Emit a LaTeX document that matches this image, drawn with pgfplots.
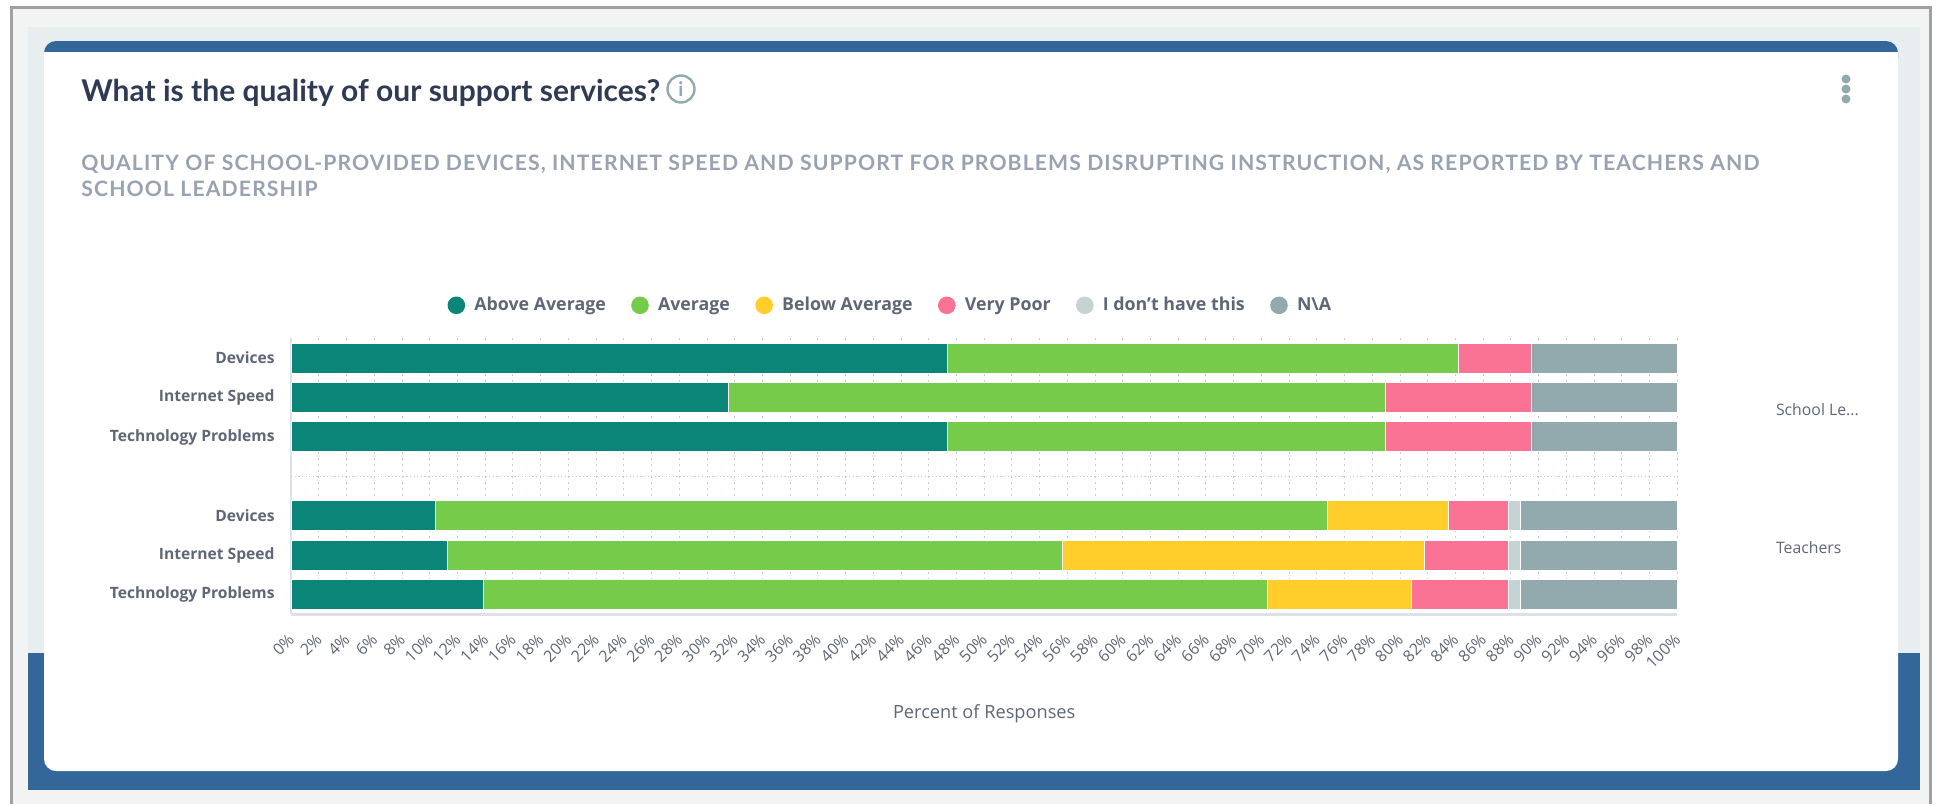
\documentclass[border=0pt]{standalone}
\usepackage{fontspec}
\setmainfont{Open Sans}
\newfontfamily\headfont{Lato}
\usepackage{pgfplots}
\usepackage{pgfplotstable}
\pgfplotsset{compat=1.18}

\definecolor{cAbove}{HTML}{0A8577}
\definecolor{cAvg}{HTML}{76CB4B}
\definecolor{cBelow}{HTML}{FFCE2B}
\definecolor{cPoor}{HTML}{FA7395}
\definecolor{cNone}{HTML}{C5D3D4}
\definecolor{cNA}{HTML}{92AAAE}
\definecolor{blueband}{HTML}{336699}
\definecolor{paleback}{HTML}{E8EDEF}
\definecolor{frameback}{HTML}{F2F3F3}
\definecolor{framegray}{HTML}{A0A0A0}
\definecolor{titlecol}{HTML}{2F3B52}
\definecolor{subcol}{HTML}{98A2B0}
\definecolor{labelcol}{HTML}{5F6675}
\definecolor{gridcol}{HTML}{C5CDD8}
\definecolor{axiscol}{HTML}{DDE1E7}

% row, then the six answers in percent (rows 0-2 leaders, 4-6 teachers)
\pgfplotstableread{
row above avg below poor none na
0 47.37 36.84 0 5.26 0 10.53
1 31.58 47.37 0 10.53 0 10.53
2 47.37 31.58 0 10.53 0 10.53
4 10.43 64.35 8.70 4.35 0.87 11.30
5 11.30 44.35 26.09 6.09 0.87 11.30
6 13.91 56.52 10.43 6.96 0.87 11.30
}\ratings

\begin{document}
\begin{tikzpicture}[x=0.5pt,y=-0.5pt]
\useasboundingbox (0,0) rectangle (1939,804);
\fill[white] (0,0) rectangle (1939,804);
\fill[frameback] (11,7) rectangle (1930,804);
\draw[framegray,line width=1.5pt] (11,804) -- (11,7) -- (1930,7) -- (1930,804);
\fill[paleback] (28,27) rectangle (1920,653);
\fill[blueband] (28,653) rectangle (1920,790);
\fill[blueband,rounded corners=6pt] (44,41) rectangle (1898,70);
\fill[white,rounded corners=6pt] (44,52) rectangle (1898,771);
\fill[white] (44,52) rectangle (1898,80);
\node[anchor=west,inner sep=0pt,font=\headfont\bfseries\fontsize{15}{17}\selectfont,text=titlecol] at (81,93) {What is the quality of our support services?};
\draw[cNA,line width=1.2pt] (681,89) circle (13.5);
\node[font=\headfont\bfseries\fontsize{10}{12}\selectfont,text=cNA] at (681,89) {i};
\fill[cNA] (1846,79) circle (4.5) (1846,89) circle (4.5) (1846,99) circle (4.5);
\node[anchor=west,inner sep=0pt,font=\headfont\bfseries\fontsize{10.6}{13}\selectfont,text=subcol] at (81,164) {\addfontfeature{LetterSpace=5.2}QUALITY OF SCHOOL-PROVIDED DEVICES, INTERNET SPEED AND SUPPORT FOR PROBLEMS DISRUPTING INSTRUCTION, AS REPORTED BY TEACHERS AND};
\node[anchor=west,inner sep=0pt,font=\headfont\bfseries\fontsize{10.6}{13}\selectfont,text=subcol] at (81,189) {\addfontfeature{LetterSpace=5.2}SCHOOL LEADERSHIP};

\begin{axis}[
  at={(145.6pt,-307.2pt)}, anchor=south west,
  scale only axis, width=693pt, height=138pt,
  xbar stacked, bar width=15pt,
  xmin=0, xmax=100, ymin=-0.5, ymax=6.5, y dir=reverse,
  clip=false,
  axis x line=bottom, axis y line=left,
  x axis line style={draw=axiscol,line width=1.1pt,-},
  y axis line style={draw=axiscol,line width=0.7pt,-},
  major tick length=0pt,
  xtick={0,2,...,100},
  xticklabel={\pgfmathprintnumber{\tick}\%},
  /pgf/number format/assume math mode=true,
  xticklabel style={rotate=45,anchor=north east,font=\fontsize{8}{9}\selectfont,text=labelcol,xshift=-4.4pt,yshift=-1.5pt},
  ytick={0,1,2,4,5,6},
  yticklabels={Devices,Internet Speed,Technology Problems,Devices,Internet Speed,Technology Problems},
  yticklabel style={font=\bfseries\fontsize{7.8}{9}\selectfont,text=labelcol,xshift=-4.8pt},
  extra y ticks={3},
  extra y tick labels={},
  extra y tick style={grid=major,grid style={draw=gridcol,dash pattern=on 0.6pt off 1.2pt,line width=0.5pt}},
  xmajorgrids, grid style={draw=gridcol,dash pattern=on 0.6pt off 2.4pt,line width=0.5pt},
  xlabel={Percent of Responses},
  xlabel style={font=\fontsize{9.1}{11}\selectfont,text=labelcol,at={(axis description cs:0.5,-0.36)},anchor=center},
  legend columns=6,
  legend style={draw=none,fill=none,at={(0.433,1.12)},anchor=center,
    font=\bfseries\fontsize{8.9}{11}\selectfont,text=labelcol,
    /tikz/every even column/.append style={column sep=10.7pt}},
  legend image code/.code={\fill[#1,draw=none] (0pt,0pt) circle (4.4pt);\path[draw=none] (0pt,0pt) -- (7pt,0pt);},
  every axis plot/.append style={draw=white,line width=0.5pt},
]
\addplot[fill=cAbove] table[x=above,y=row] {\ratings};
\addplot[fill=cAvg] table[x=avg,y=row] {\ratings};
\addplot[fill=cBelow] table[x=below,y=row] {\ratings};
\addplot[fill=cPoor] table[x=poor,y=row] {\ratings};
\addplot[fill=cNone] table[x=none,y=row] {\ratings};
\addplot[fill=cNA] table[x=na,y=row] {\ratings};
\legend{Above Average,Average,Below Average,Very Poor,I don't have this,N\textbackslash A}
\node[anchor=west,inner sep=0pt,font=\fontsize{7.9}{9}\selectfont,text=labelcol] at (axis cs:107.1,1.3) {School Le...};
\node[anchor=west,inner sep=0pt,font=\fontsize{7.9}{9}\selectfont,text=labelcol] at (axis cs:107.1,4.8) {Teachers};
\end{axis}
\end{tikzpicture}
\end{document}
